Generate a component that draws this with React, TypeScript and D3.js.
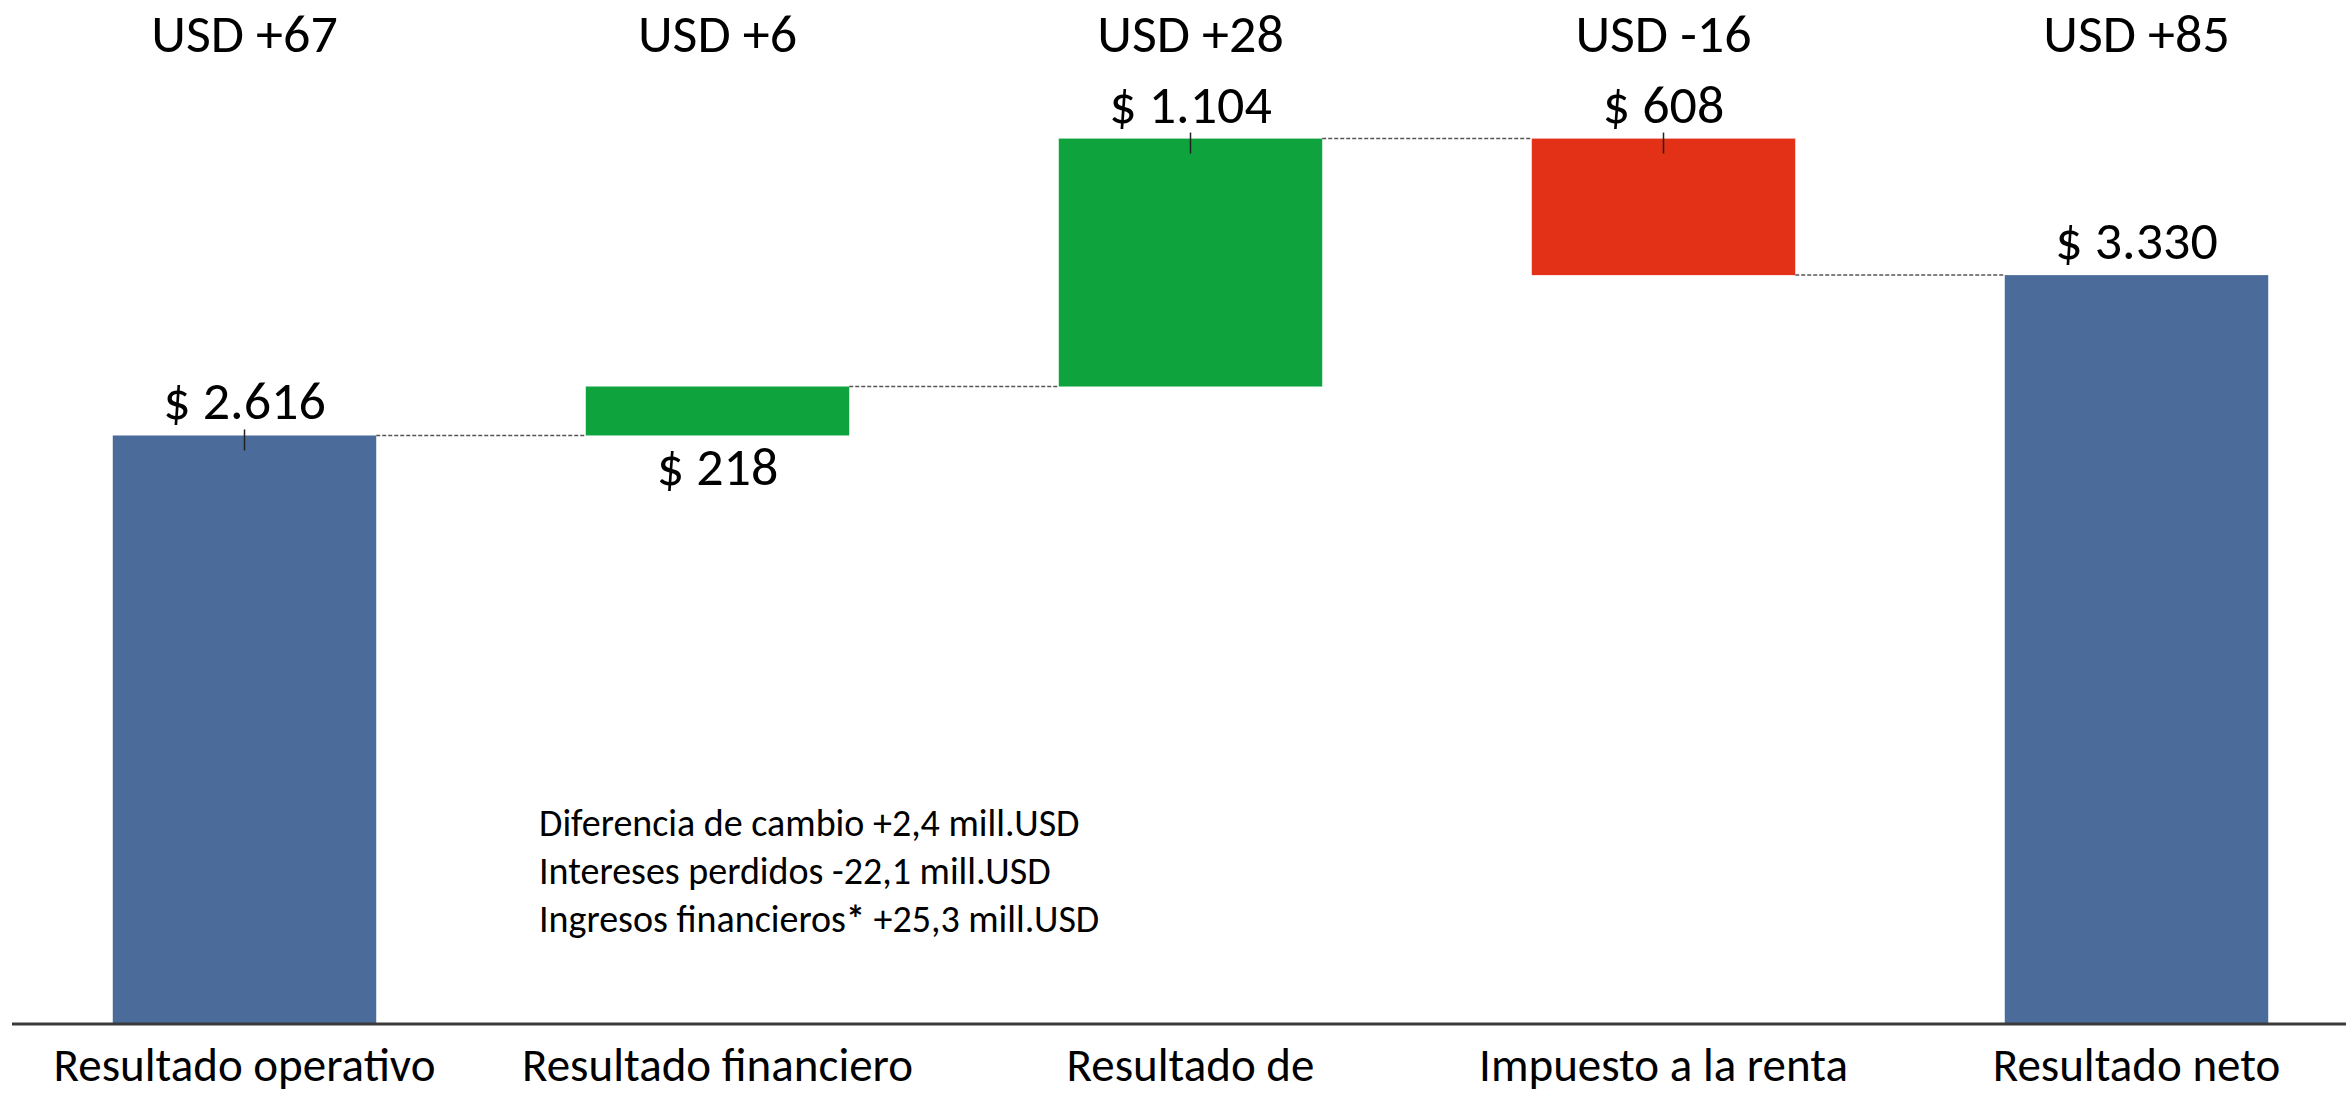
import React from 'react';
import { scaleBand, scaleLinear } from 'd3';

const categories = ['Resultado operativo', 'Resultado financiero', 'Resultado de', 'Impuesto a la renta', 'Resultado neto'];
const amounts = [2616, 218, 1104, -608, 3330];
const kinds = ['total', 'delta', 'delta', 'delta', 'total'];
const valueLabels = ['$ 2.616', '$ 218', '$ 1.104', '$ 608', '$ 3.330'];
const usdLabels = ['USD +67', 'USD +6', 'USD +28', 'USD -16', 'USD +85'];
const withTick = [true, false, true, true, false];
const notes = [
  ['Diferencia de cambio', ' +2,4 mill.USD'],
  ['Intereses perdidos', ' -22,1 mill.USD'],
  ['Ingresos financieros', '* +25,3 mill.USD'],
];

const W = 2346, H = 1093;
const FONT = "Carlito, Lato, 'Open Sans', sans-serif";
const BLUE = '#4b6b9b', GREEN = '#0ea33c', RED = '#e33118';

export default function App() {
  const x = scaleBand<string>()
    .domain(categories)
    .range([8, 2373])
    .paddingInner(0.443)
    .paddingOuter(0.2215);

  const y = scaleLinear().domain([0, 4555]).range([1023, 0]);

  // running totals for the waterfall
  let run = 0;
  const bars = categories.map((c, i) => {
    let lo: number, hi: number;
    if (kinds[i] === 'total') {
      lo = 0; hi = amounts[i]; run = amounts[i];
    } else {
      const next = run + amounts[i];
      lo = Math.min(run, next); hi = Math.max(run, next); run = next;
    }
    const fill = kinds[i] === 'total' ? BLUE : amounts[i] >= 0 ? GREEN : RED;
    return { c, i, lo, hi, end: run, fill };
  });

  const bw = x.bandwidth();

  return (
    <svg width={W} height={H} style={{ position: 'absolute', left: 0, top: 0, display: 'block' }} fontFamily={FONT}>
      <rect width={W} height={H} fill="#fff" />

      {bars.map(b => (
        <rect key={'b' + b.i} x={x(b.c)} y={y(b.hi)} width={bw} height={y(b.lo) - y(b.hi)} fill={b.fill} />
      ))}

      {bars.slice(0, -1).map(b => (
        <line key={'d' + b.i}
          x1={(x(b.c) as number) + bw} x2={x(categories[b.i + 1]) as number}
          y1={y(b.end)} y2={y(b.end)}
          stroke="#555" strokeWidth={1.5} strokeDasharray="4 2" />
      ))}

      <line x1={12} x2={W} y1={y(0) + 1} y2={y(0) + 1} stroke="#3a3a3a" strokeWidth={3} />

      {bars.map(b => {
        const cx = (x(b.c) as number) + bw / 2;
        const short = y(b.lo) - y(b.hi) < 60;
        return (
          <g key={'l' + b.i}>
            <text x={cx} y={52} textAnchor="middle" fontSize={54} fill="#000">{usdLabels[b.i]}</text>
            {short
              ? <text x={cx} y={y(b.lo) + 50} textAnchor="middle" fontSize={54} fill="#000">{valueLabels[b.i]}</text>
              : <text x={cx} y={y(b.hi) - 16} textAnchor="middle" fontSize={54} fill="#000">{valueLabels[b.i]}</text>}
            {withTick[b.i] && (
              <line x1={cx} x2={cx} y1={y(b.hi) - 6} y2={y(b.hi) + 15} stroke="#222" strokeWidth={1.5} />
            )}
            <text x={cx} y={1081} textAnchor="middle" fontSize={47} fill="#000">{b.c}</text>
          </g>
        );
      })}

      {notes.map((n, i) => (
        <text key={'n' + i} x={539} y={836 + i * 48} fontSize={38} fill="#000">
          {n[0]}
          {n[1].startsWith('*')
            ? <><tspan fontWeight="bold">*</tspan>{n[1].slice(1)}</>
            : n[1]}
        </text>
      ))}
    </svg>
  );
}
